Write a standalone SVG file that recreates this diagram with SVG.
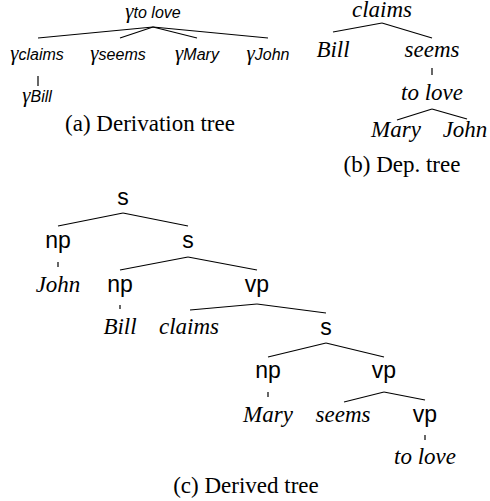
<svg xmlns="http://www.w3.org/2000/svg" width="490" height="501" viewBox="0 0 490 501">
<style>
.it{font-family:"Liberation Serif","Times New Roman","DejaVu Serif",serif;font-style:italic;font-size:23px;fill:#000;text-anchor:middle}
.rm{font-family:"Liberation Serif","Times New Roman",serif;font-size:23px;fill:#000;text-anchor:middle}
.sf{font-family:"Liberation Sans",Arial,sans-serif;font-size:23px;fill:#000;text-anchor:middle}
.gl{font-family:"Liberation Sans",Arial,sans-serif;font-style:italic;font-size:16px;fill:#000;text-anchor:middle}
.g{font-family:"Liberation Serif","Times New Roman",serif;font-style:italic;font-size:21px}
.ln line{stroke:#000;stroke-width:1.2}
</style>
<rect width="490" height="501" fill="#fff"/>
<g id="connectors" class="ln">
<line x1="153" y1="27" x2="38" y2="38"/>
<line x1="153" y1="27" x2="120" y2="38"/>
<line x1="153" y1="27" x2="197" y2="38"/>
<line x1="153" y1="27" x2="268" y2="38"/>
<line x1="38" y1="76" x2="38" y2="86"/>
<line x1="382" y1="23" x2="333" y2="32"/>
<line x1="382" y1="23" x2="432" y2="38"/>
<line x1="432" y1="68" x2="432" y2="75"/>
<line x1="432" y1="109" x2="397" y2="120"/>
<line x1="432" y1="109" x2="467" y2="119"/>
<line x1="123" y1="213" x2="58" y2="226"/>
<line x1="123" y1="213" x2="188" y2="226"/>
<line x1="58" y1="262" x2="58" y2="267"/>
<line x1="188" y1="257" x2="120" y2="270"/>
<line x1="188" y1="257" x2="257" y2="270"/>
<line x1="120" y1="305" x2="120" y2="309"/>
<line x1="257" y1="304" x2="190" y2="310"/>
<line x1="257" y1="304" x2="326" y2="313"/>
<line x1="326" y1="343" x2="268" y2="357"/>
<line x1="326" y1="343" x2="384" y2="357"/>
<line x1="268" y1="392" x2="268" y2="397"/>
<line x1="384" y1="392" x2="344" y2="402"/>
<line x1="384" y1="392" x2="425" y2="400"/>
<line x1="425" y1="435" x2="425" y2="440"/>
</g>
<g id="d-tolove"><text class="gl" x="153" y="18"><tspan class="g">γ</tspan>to love</text></g>
<g id="d-claims"><text class="gl" x="37" y="60"><tspan class="g">γ</tspan>claims</text></g>
<g id="d-seems"><text class="gl" x="118" y="60"><tspan class="g">γ</tspan>seems</text></g>
<g id="d-mary"><text class="gl" x="197" y="60"><tspan class="g">γ</tspan>Mary</text></g>
<g id="d-john"><text class="gl" x="268" y="60"><tspan class="g">γ</tspan>John</text></g>
<g id="d-bill"><text class="gl" x="37" y="102"><tspan class="g">γ</tspan>Bill</text></g>
<text class="rm" x="150" y="131">(a)  Derivation tree</text>
<g id="p-claims"><text class="it" x="382" y="17">claims</text></g>
<g id="p-bill"><text class="it" x="333" y="57">Bill</text></g>
<g id="p-seems"><text class="it" x="432" y="57">seems</text></g>
<g id="p-tolove"><text class="it" x="432" y="100">to love</text></g>
<g id="p-mary"><text class="it" x="396" y="137">Mary</text></g>
<g id="p-john"><text class="it" x="465" y="137">John</text></g>
<text class="rm" x="402" y="172">(b)  Dep. tree</text>
<g id="t-s1"><text class="sf" x="123" y="205">s</text></g>
<g id="t-np1"><text class="sf" x="58" y="248">np</text></g>
<g id="t-s2"><text class="sf" x="188" y="248">s</text></g>
<g id="t-john"><text class="it" x="58" y="292">John</text></g>
<g id="t-np2"><text class="sf" x="120" y="292">np</text></g>
<g id="t-vp2"><text class="sf" x="257" y="292">vp</text></g>
<g id="t-bill"><text class="it" x="120" y="334">Bill</text></g>
<g id="t-claims"><text class="it" x="189" y="334">claims</text></g>
<g id="t-s3"><text class="sf" x="326" y="335">s</text></g>
<g id="t-np3"><text class="sf" x="268" y="378">np</text></g>
<g id="t-vp3"><text class="sf" x="384" y="378">vp</text></g>
<g id="t-mary"><text class="it" x="268" y="422">Mary</text></g>
<g id="t-seems"><text class="it" x="343" y="422">seems</text></g>
<g id="t-vp4"><text class="sf" x="425" y="422">vp</text></g>
<g id="t-tolove"><text class="it" x="425" y="464">to love</text></g>
<text class="rm" x="246" y="493">(c)  Derived tree</text>
</svg>
